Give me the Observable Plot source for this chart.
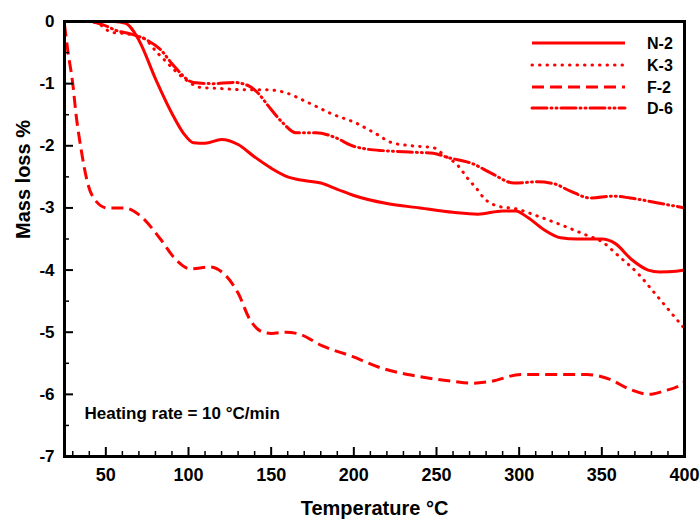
<!DOCTYPE html>
<html><head><meta charset="utf-8">
<script src="https://cdn.jsdelivr.net/npm/d3@7"></script>
<script src="https://cdn.jsdelivr.net/npm/@observablehq/plot@0.6"></script>
<style>
body{margin:0;background:#fff;font-family:"Liberation Sans",Arial,sans-serif}
#wrap{position:relative;width:700px;height:521px}
#legend{position:absolute;left:0;top:0;pointer-events:none}
</style></head><body><div id="wrap"></div>
<script>
// ---- data ----
const seriesNames = ["N-2", "K-3", "F-2", "D-6"];

const n2T = [25,40,55,62,70,80,90,97,103,110,120,130,140,150,160,170,180,190,200,220,240,260,275,290,298,305,315,325,335,350,358,368,378,385,395,400];
const n2M = [0,0,0,-0.03,-0.3,-0.92,-1.48,-1.8,-1.95,-1.96,-1.9,-1.98,-2.18,-2.36,-2.5,-2.56,-2.6,-2.7,-2.8,-2.93,-3.0,-3.07,-3.1,-3.05,-3.05,-3.15,-3.35,-3.48,-3.5,-3.5,-3.57,-3.83,-4.0,-4.03,-4.02,-4.0];

const k3T = [25,40,47,53,63,73,81,87,93,99,107,120,135,148,158,172,187,201,213,223,235,248,255,263,269,274,279,287,299,311,327,339,351,360,372,381,392,400];
const k3M = [0,0,-0.06,-0.17,-0.2,-0.27,-0.5,-0.66,-0.82,-0.95,-1.06,-1.08,-1.1,-1.1,-1.14,-1.3,-1.49,-1.63,-1.8,-1.95,-2.0,-2.03,-2.16,-2.32,-2.53,-2.68,-2.85,-2.97,-3.02,-3.13,-3.29,-3.42,-3.56,-3.77,-4.06,-4.34,-4.69,-4.94];

const f2T = [25,27,30,32,35,39,44,51,61,71,83,93,101,113,121,130,137,145,150,159,167,181,199,217,239,260,272,283,301,321,341,355,367,379,387,398,400];
const f2M = [-0.05,-0.47,-1.0,-1.5,-2.05,-2.6,-2.89,-3.0,-3.0,-3.13,-3.5,-3.85,-3.98,-3.95,-4.05,-4.37,-4.79,-5.0,-5.02,-5.0,-5.03,-5.22,-5.39,-5.58,-5.71,-5.79,-5.82,-5.79,-5.68,-5.68,-5.68,-5.76,-5.92,-6.0,-5.95,-5.84,-5.8];

const d6T = [25,40,48,57,65,75,83,91,103,115,127,136,142,148,157,165,177,189,199,207,219,241,248,257,272,283,297,311,321,331,343,357,367,384,400];
const d6M = [0,0,-0.05,-0.15,-0.2,-0.3,-0.45,-0.71,-0.98,-1.0,-0.98,-1.03,-1.15,-1.35,-1.63,-1.79,-1.79,-1.87,-2.0,-2.05,-2.08,-2.11,-2.12,-2.19,-2.29,-2.44,-2.6,-2.58,-2.61,-2.73,-2.84,-2.81,-2.84,-2.92,-3.0];

const xMajor = [50,100,150,200,250,300,350,400];
const xMinor = [30,40,60,70,80,90,110,120,130,140,160,170,180,190,210,220,230,240,260,270,280,290,310,320,330,340,360,370,380,390];
const yMajor = [0,-1,-2,-3,-4,-5,-6,-7];
const yMinor = [-0.5,-1.5,-2.5,-3.5,-4.5,-5.5,-6.5];

const xTitle = "Temperature °C";
const yTitle = "Mass loss %";
const note = "Heating rate = 10 °C/min";

// ---- styles ----
const RED = "#ff0000";
const styles = {
  "N-2": {dash: null, cap: "butt"},
  "K-3": {dash: "0.5,7", cap: "round"},
  "F-2": {dash: "12,6", cap: "butt"},
  "D-6": {dash: "15,4,1,4,1,4", cap: "round"}
};
const seriesData = {
  "N-2": [n2T, n2M], "K-3": [k3T, k3M], "F-2": [f2T, f2M], "D-6": [d6T, d6M]
};

const W = 700, H = 521, mL = 64, mR = 16, mT = 21, mB = 65;
const plotH = H - mT - mB, plotW = W - mL - mR;
const FONT = "'Liberation Sans', Arial, sans-serif";

const rows = seriesNames.flatMap(n => seriesData[n][0].map((t, i) => ({name: n, T: t, m: seriesData[n][1][i]})));

const chart = Plot.plot({
  width: W, height: H,
  marginLeft: mL, marginRight: mR, marginTop: mT, marginBottom: mB,
  style: {fontFamily: FONT, background: "white", overflow: "visible"},
  x: {domain: [25, 400]},
  y: {domain: [-7, 0]},
  marks: [
    ...seriesNames.map(n => Plot.line(rows.filter(r => r.name === n), {
      x: "T", y: "m", stroke: RED, strokeWidth: 3,
      strokeDasharray: styles[n].dash, strokeLinecap: styles[n].cap,
      curve: "monotone-x"
    })),
    Plot.tickX(xMinor, {x: d => d, insetTop: plotH - 5, strokeWidth: 1.5, stroke: "black"}),
    Plot.tickX(xMajor, {x: d => d, insetTop: plotH - 9, strokeWidth: 2, stroke: "black"}),
    Plot.tickY(yMinor, {y: d => d, insetRight: plotW - 5, strokeWidth: 1.5, stroke: "black"}),
    Plot.tickY(yMajor, {y: d => d, insetRight: plotW - 9, strokeWidth: 2, stroke: "black"}),
    Plot.axisX(xMajor, {tickSize: 0, tickPadding: 12, fontSize: 18, fontWeight: "bold", label: null, fill: "black", tickFormat: d => String(d)}),
    Plot.axisY(yMajor, {tickSize: 0, tickPadding: 10, fontSize: 17, fontWeight: "bold", label: null, fill: "black", tickFormat: d => String(d)}),
    Plot.frame({stroke: "black", strokeWidth: 3}),
    Plot.text([xTitle], {frameAnchor: "bottom", dy: 52, fontSize: 20, fontWeight: "bold", lineAnchor: "middle", fill: "black"}),
    Plot.text([yTitle], {frameAnchor: "left", dx: -41, rotate: -90, fontSize: 20, fontWeight: "bold", lineAnchor: "middle", fill: "black"}),
    Plot.text([note], {frameAnchor: "bottom-left", dx: 20, dy: -43, textAnchor: "start", lineAnchor: "middle", fontSize: 17, fontWeight: "bold", fill: "black"})
  ]
});

const wrap = document.getElementById("wrap");
wrap.appendChild(chart);

// ---- legend overlay (inside plot, top-right) ----
const leg = d3.select(wrap).append("svg").attr("id", "legend").attr("width", W).attr("height", H);
const legRows = [43, 65, 87, 108];
seriesNames.forEach((n, i) => {
  const y = legRows[i];
  leg.append("line").attr("x1", 532).attr("x2", 625).attr("y1", y).attr("y2", y)
    .attr("stroke", RED).attr("stroke-width", 3)
    .attr("stroke-dasharray", styles[n].dash).attr("stroke-linecap", styles[n].cap);
  leg.append("text").attr("x", 647).attr("y", y).attr("dy", "0.35em")
    .attr("font-family", FONT).attr("font-size", 16).attr("font-weight", "bold").text(n);
});
</script></body></html>
